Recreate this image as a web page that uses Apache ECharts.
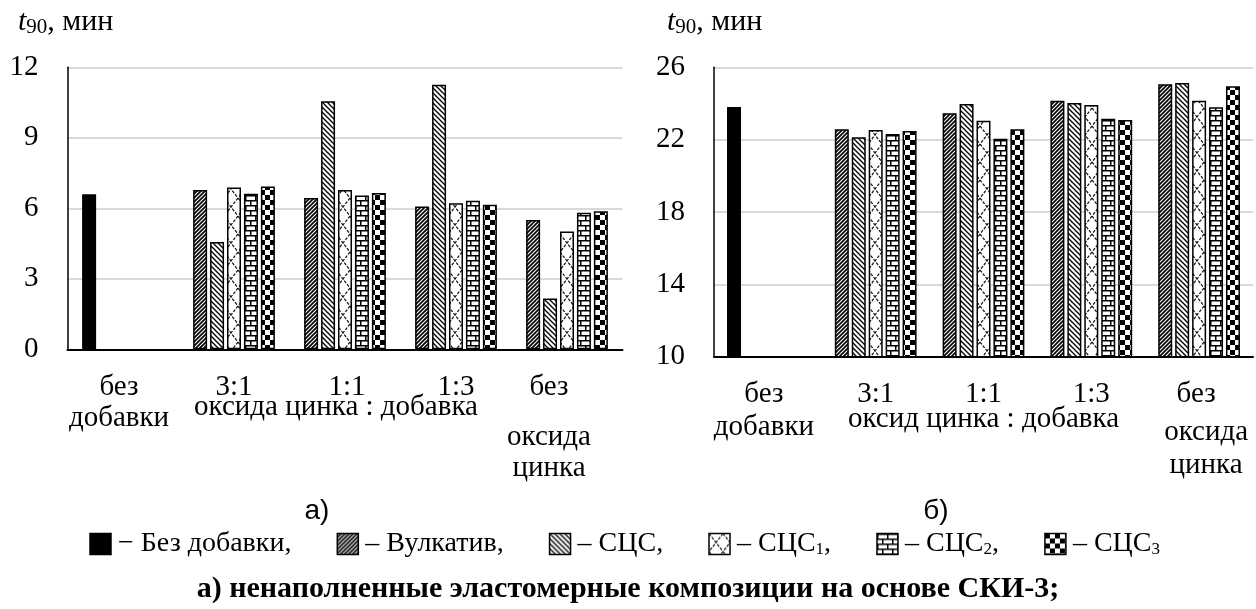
<!DOCTYPE html>
<html>
<head>
<meta charset="utf-8">
<script src="https://cdn.jsdelivr.net/npm/echarts@6/dist/echarts.min.js"></script>
<style>
html,body{margin:0;padding:0;background:#fff;}
#c{width:1256px;height:609px;}
</style>
</head>
<body>
<div id="c"></div>
<script>
// ---------- DATA ----------
const categories = ['без добавки', '3:1', '1:1', '1:3', 'без оксида цинка'];
const seriesNames = ['Вулкатив', 'СЦС', 'СЦС1', 'СЦС2', 'СЦС3'];

// a) left panel (t90, min); first point of Вулкатив row is the "Без добавки" control
const leftVulkativ = [6.6, 6.78, 6.44, 6.08, 5.50];
const leftSCS      = [null, 4.57, 10.55, 11.26, 2.16];
const leftSCS1     = [null, 6.88, 6.78, 6.22, 5.01];
const leftSCS2     = [null, 6.62, 6.54, 6.32, 5.81];
const leftSCS3     = [null, 6.93, 6.65, 6.15, 5.87];

// б) right panel
const rightVulkativ = [23.8, 22.57, 23.46, 24.15, 25.06];
const rightSCS      = [null, 22.13, 23.97, 24.03, 25.13];
const rightSCS1     = [null, 22.53, 23.05, 23.92, 24.15];
const rightSCS2     = [null, 22.31, 22.05, 23.16, 23.79];
const rightSCS3     = [null, 22.48, 22.57, 23.08, 24.95];

const leftAxisRange = [0, 12, 3];     // min, max, interval
const rightAxisRange = [10, 26, 4];

const leftXLabelLines  = [['без', 'добавки'], ['3:1'], ['1:1'], ['1:3'], ['без', 'оксида', 'цинка']];
const rightXLabelLines = [['без', 'добавки'], ['3:1'], ['1:1'], ['1:3'], ['без', 'оксида', 'цинка']];
const leftAxisCaption  = 'оксида цинка : добавка';
const rightAxisCaption = 'оксид цинка : добавка';
const yTitleMain = 't';
const yTitleSub = '90';
const yTitleRest = ', мин';
const panelCaptions = ['а)', 'б)'];
const legendLabels = ['Без добавки', 'Вулкатив', 'СЦС', 'СЦС', 'СЦС', 'СЦС'];
const legendSubs   = ['', '', '', '1', '2', '3'];
const bottomCaption = 'а) ненаполненные эластомерные композиции на основе СКИ-3;';

// ---------- PATTERNS ----------
function tile(w, h, draw) {
  const c = document.createElement('canvas');
  c.width = w; c.height = h;
  const g = c.getContext('2d');
  g.fillStyle = '#fff'; g.fillRect(0, 0, w, h);
  g.strokeStyle = '#000'; g.fillStyle = '#000';
  draw(g, w, h);
  return { image: c, repeat: 'repeat' };
}
function line(g, pts, lw) {
  g.lineWidth = lw; g.beginPath();
  g.moveTo(pts[0], pts[1]);
  for (let i = 2; i < pts.length; i += 2) g.lineTo(pts[i], pts[i + 1]);
  g.stroke();
}
const patUp = tile(4, 4, (g) => { // dense ////
  line(g, [-1, 5, 5, -1], 1.7);
  line(g, [-1, 1, 1, -1], 1.7);
  line(g, [3, 5, 5, 3], 1.7);
});
const patDown = tile(5, 5, (g) => { // \\\\
  line(g, [-1, -1, 6, 6], 1.3);
  line(g, [-1, 4, 1, 6], 1.3);
  line(g, [4, -1, 6, 1], 1.3);
});
const patTrellis = tile(14, 18, (g) => { // zigzag lattice
  g.strokeStyle = '#111';
  g.setLineDash([3, 1.5]);
  line(g, [0, 0, 7, 9, 0, 18], 1.2);
  line(g, [14, 0, 7, 9, 14, 18], 1.2);
});
const patBrick = tile(10, 10, (g) => { // horizontal brick
  g.fillRect(0, 0, 10, 1.5);
  g.fillRect(0, 5, 10, 1.5);
  g.fillRect(0, 0, 1.5, 5);
  g.fillRect(5, 5, 1.5, 5);
});
const patChecker = tile(10, 10, (g) => { // checkerboard
  g.fillRect(0, 0, 5, 5);
  g.fillRect(5, 5, 5, 5);
});
const patterns = [patUp, patDown, patTrellis, patBrick, patChecker];

// ---------- LAYOUT ----------
const SERIF = '"Liberation Serif", "Times New Roman", serif';
const SANS = '"Liberation Sans", Arial, sans-serif';
const G0 = { left: 67.5, top: 67.3, width: 555, height: 282 };
const G1 = { left: 714, top: 67.3, width: 539, height: 289.4 };

function makeSeries(rows, gridIdx) {
  return rows.map((vals, si) => ({
    name: seriesNames[si],
    type: 'bar',
    xAxisIndex: gridIdx,
    yAxisIndex: gridIdx,
    barWidth: 14,
    barGap: '21%',
    data: vals.map((v, ci) => (v == null ? '-' :
      (si === 0 && ci === 0 ? { value: v, itemStyle: { color: '#000' } } : v))),
    itemStyle: { color: patterns[si], borderColor: '#000', borderWidth: 1.5 },
    emphasis: { disabled: true }
  }));
}

function xAxisCfg(idx) {
  return {
    type: 'category', gridIndex: idx, data: categories,
    axisLine: { lineStyle: { color: '#000', width: 2 } },
    axisTick: { show: false }, axisLabel: { show: false }
  };
}
function yAxisCfg(idx, r) {
  return {
    type: 'value', gridIndex: idx, min: r[0], max: r[1], interval: r[2],
    axisLine: { show: true, lineStyle: { color: '#000', width: 1.5 } },
    axisTick: { show: false },
    splitLine: { lineStyle: { color: '#d9d9d9', width: 2 } },
    axisLabel: { fontFamily: SERIF, fontSize: 29, color: '#000', margin: 29 }
  };
}

const graphics = [];
function txt(x, y, text, font, align, extra) {
  graphics.push(Object.assign({
    type: 'text', x: x, y: y, silent: true,
    style: { text: text, font: font, fill: '#000', align: align || 'center', verticalAlign: 'middle',
             textAlign: align || 'center', textVerticalAlign: 'middle' }
  }, extra || {}));
}
function catCenter(G, i) { return G.left + G.width * (i + 0.5) / 5; }

// x labels, left panel
const xFont = '29px ' + SERIF;
const lShift = [-4, 0, 2, 0, -18];
leftXLabelLines.forEach((lines, i) => {
  const cx = catCenter(G0, i) + lShift[i];
  const ys = lines.length === 3 ? [387, 437, 468] : [387, 418];
  lines.forEach((t, k) => txt(cx, ys[k], t, xFont));
});
txt(catCenter(G0, 2) - 9, 407, leftAxisCaption, xFont);
// x labels, right panel
const rShift = [-4, 0, 0, 0, -3];
rightXLabelLines.forEach((lines, i) => {
  const cx = catCenter(G1, i) + rShift[i];
  const ys = lines.length === 3 ? [394, 432, 465] : [394, 427];
  lines.forEach((t, k) => txt(cx + (k > 0 && lines.length === 3 ? 10 : 0), ys[k], t, xFont));
});
txt(catCenter(G1, 2), 419, rightAxisCaption, xFont);

// y titles
function yTitle(x) {
  graphics.push({
    type: 'text', x: x, y: 22, silent: true,
    style: {
      text: '{t|' + yTitleMain + '}{s|' + yTitleSub + '}{n|' + yTitleRest + '}',
      align: 'left', verticalAlign: 'middle', textAlign: 'left', textVerticalAlign: 'middle',
      rich: {
        t: { fontFamily: SERIF, fontStyle: 'italic', fontSize: 30, lineHeight: 32, fill: '#000', color: '#000' },
        s: { fontFamily: SERIF, fontSize: 21, lineHeight: 26, verticalAlign: 'bottom', fill: '#000', color: '#000' },
        n: { fontFamily: SERIF, fontSize: 30, lineHeight: 32, fill: '#000', color: '#000' }
      }
    }
  });
}
yTitle(18);
yTitle(667);

// panel captions
txt(317, 511, panelCaptions[0], '28px ' + SANS);
txt(936, 511, panelCaptions[1], '28px ' + SANS);

// legend: evenly spread between the measured ends of the reference line
const legFont = '28px ' + SERIF;
const legSubFont = '17px ' + SERIF;
const mctx = document.createElement('canvas').getContext('2d');
function mw(t, f) { mctx.font = f; return mctx.measureText(t).width; }
const legendItems = legendLabels.map((lab, i) => {
  const dash = i === 0 ? '\u2212 ' : '\u2013 ';
  const comma = i < legendLabels.length - 1 ? ',' : '';
  const main = dash + lab;
  const w = mw(main, legFont) + (legendSubs[i] ? mw(legendSubs[i], legSubFont) : 0) + mw(comma, legFont);
  return { main: main, sub: legendSubs[i], comma: comma, w: w };
});
const iconW = 21, iconGap = 7;
const legLeft = 90, legRight = 1160;
const totalW = legendItems.reduce((s, it) => s + iconW + iconGap + it.w, 0);
const itemGap = (legRight - legLeft - totalW) / (legendItems.length - 1);
let lx = legLeft;
const legY = 544;
legendItems.forEach((it, i) => {
  graphics.push({
    type: 'rect', x: lx, y: legY - 10.5, silent: true,
    shape: { width: iconW, height: iconW },
    style: { fill: i === 0 ? '#000' : patterns[i - 1], stroke: '#000', lineWidth: 1.5 }
  });
  lx += iconW + iconGap;
  graphics.push({
    type: 'text', x: lx, y: legY, silent: true,
    style: {
      text: it.main + (it.sub ? '{s|' + it.sub + '}' : '') + it.comma,
      font: legFont, fill: '#000', align: 'left', verticalAlign: 'middle', textAlign: 'left', textVerticalAlign: 'middle',
      rich: { s: { fontFamily: SERIF, fontSize: 17, lineHeight: 25, verticalAlign: 'bottom', fill: '#000', color: '#000' } }
    }
  });
  lx += it.w + itemGap;
});

// bottom caption
txt(628, 589, bottomCaption, 'bold 30px ' + SERIF);

// ---------- CHART ----------
const chart = echarts.init(document.getElementById('c'), null, { renderer: 'canvas' });
chart.setOption({
  animation: false,
  backgroundColor: '#fff',
  grid: [
    Object.assign({ containLabel: false }, G0),
    Object.assign({ containLabel: false }, G1)
  ],
  xAxis: [xAxisCfg(0), xAxisCfg(1)],
  yAxis: [yAxisCfg(0, leftAxisRange), yAxisCfg(1, rightAxisRange)],
  series: makeSeries([leftVulkativ, leftSCS, leftSCS1, leftSCS2, leftSCS3], 0)
    .concat(makeSeries([rightVulkativ, rightSCS, rightSCS1, rightSCS2, rightSCS3], 1)),
  graphic: graphics
});
</script>
</body>
</html>
